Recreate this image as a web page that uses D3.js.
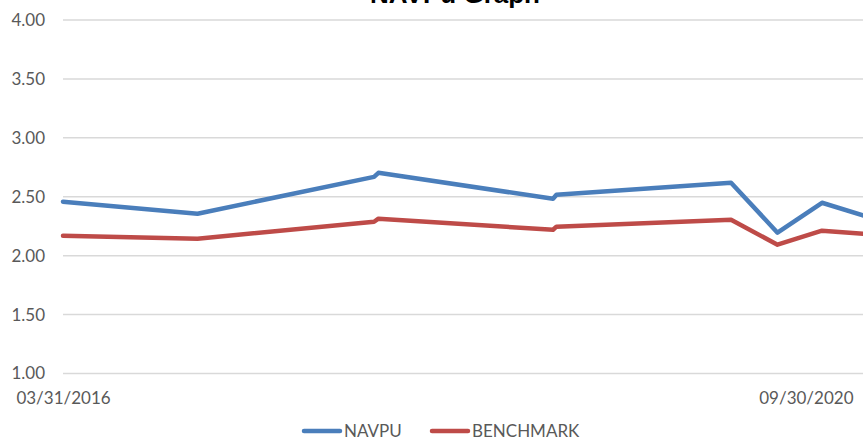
<!DOCTYPE html>
<html>
<head>
<meta charset="utf-8">
<script src="https://cdn.jsdelivr.net/npm/d3@7"></script>
<style>
  html, body { margin: 0; padding: 0; background: #fff; overflow: hidden; }
  svg { display: block; }
</style>
</head>
<body>
<svg id="chart" width="863" height="440"></svg>
<script>
const title = "NAVPu Graph";
const dates = ["2016-03-31","2016-12-31","2017-12-27","2018-01-05","2018-12-28","2019-01-04","2019-12-27","2020-03-31","2020-06-30","2020-09-30"];
const navpu = [2.458, 2.356, 2.669, 2.703, 2.483, 2.517, 2.619, 2.195, 2.449, 2.331];
const benchmark = [2.169, 2.144, 2.288, 2.314, 2.220, 2.246, 2.305, 2.093, 2.212, 2.184];
const yTicks = [1.00, 1.50, 2.00, 2.50, 3.00, 3.50, 4.00];
const xTickLabels = ["03/31/2016", "09/30/2020"];
const seriesNames = ["NAVPU", "BENCHMARK"];
const colors = ["#4a7ebb", "#be4b48"];

const parse = d3.timeParse("%Y-%m-%d");
const fmt = d3.timeFormat("%m/%d/%Y");
const dd = dates.map(parse);

const svg = d3.select("#chart");
const x = d3.scaleTime().domain([dd[0], dd[dd.length - 1]]).range([63, 867]);
const y = d3.scaleLinear().domain([1, 4]).range([373.5, 20]);

// gridlines
svg.append("g").selectAll("line").data(yTicks).join("line")
  .attr("x1", 63).attr("x2", 880)
  .attr("y1", d => y(d)).attr("y2", d => y(d))
  .attr("stroke", "#d9d9d9").attr("stroke-width", 1.5);

// y axis labels
const yAxis = d3.axisLeft(y).tickValues(yTicks).tickFormat(d3.format(".2f")).tickSize(0).tickPadding(0);
const gy = svg.append("g").attr("transform", "translate(45,0)").call(yAxis);
gy.select(".domain").remove();
gy.selectAll("text").attr("font-family", "Lato, 'Open Sans', sans-serif").attr("font-size", 17).attr("fill", "#595959");

// x axis labels
const xAxis = d3.axisBottom(x).tickValues([dd[0], dd[dd.length - 1]]).tickFormat((d, i) => xTickLabels[i]).tickSize(0).tickPadding(0);
const gx = svg.append("g").attr("transform", "translate(0,392)").call(xAxis);
gx.select(".domain").remove();
gx.selectAll("text").attr("font-family", "Lato, 'Open Sans', sans-serif").attr("font-size", 17).attr("fill", "#595959")
  .attr("dy", "0.71em");
gx.selectAll(".tick").filter((d, i) => i === 1).select("text")
  .attr("text-anchor", "end").attr("dx", -14);

// lines
const line = d3.line().x((d, i) => x(dd[i])).y(d => y(d));
[navpu, benchmark].forEach((s, k) => {
  svg.append("path").datum(s)
    .attr("d", line)
    .attr("fill", "none")
    .attr("stroke", colors[k])
    .attr("stroke-width", 4.5)
    .attr("stroke-linejoin", "round")
    .attr("stroke-linecap", "round");
});

// title (partly cut off at top, as in the reference)
svg.append("text").text(title)
  .attr("x", 455).attr("y", 3)
  .attr("text-anchor", "middle")
  .attr("font-family", "'Liberation Sans', Arial, sans-serif")
  .attr("font-weight", "bold").attr("font-size", 26).attr("fill", "#000");

// legend
const legendItems = [{x: 304, name: seriesNames[0], c: colors[0]}, {x: 432, name: seriesNames[1], c: colors[1]}];
const lg = svg.append("g");
legendItems.forEach(it => {
  lg.append("line").attr("x1", it.x).attr("x2", it.x + 36).attr("y1", 431).attr("y2", 431)
    .attr("stroke", it.c).attr("stroke-width", 4.5).attr("stroke-linecap", "round");
  lg.append("text").text(it.name).attr("x", it.x + 40).attr("y", 431).attr("dy", "0.36em")
    .attr("font-family", "Lato, 'Open Sans', sans-serif").attr("font-size", 17).attr("fill", "#595959");
});
</script>
</body>
</html>
